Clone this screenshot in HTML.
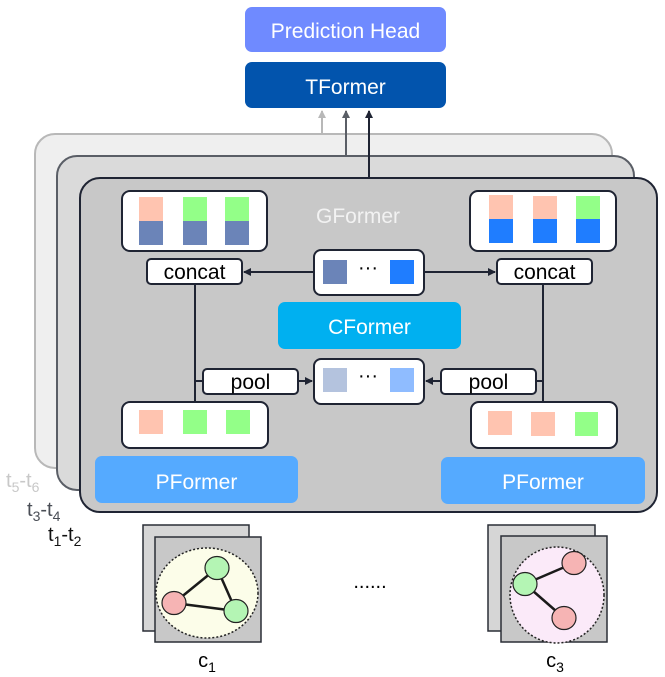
<!DOCTYPE html>
<html><head><meta charset="utf-8"><style>
html,body{margin:0;padding:0;background:#fff;}
svg{display:block;font-family:"Liberation Sans",sans-serif;}
</style></head><body>
<svg width="665" height="677" viewBox="0 0 665 677" xmlns="http://www.w3.org/2000/svg">
<defs>
<marker id="a" markerWidth="8" markerHeight="8" refX="7" refY="4" orient="auto" markerUnits="userSpaceOnUse"><path d="M0,0 L8,4 L0,8 z" fill="#1f2433"/></marker>
<marker id="ag" markerWidth="8" markerHeight="8" refX="7" refY="4" orient="auto" markerUnits="userSpaceOnUse"><path d="M0,0 L8,4 L0,8 z" fill="#b8b8b8"/></marker>
<marker id="am" markerWidth="8" markerHeight="8" refX="7" refY="4" orient="auto" markerUnits="userSpaceOnUse"><path d="M0,0 L8,4 L0,8 z" fill="#5a5e66"/></marker>
</defs>
<rect x="245" y="7" width="201" height="45" rx="7" fill="#6f8aff"/>
<text x="345.5" y="38" font-size="21" fill="#fff" text-anchor="middle">Prediction Head</text>
<rect x="245" y="62" width="201" height="46" rx="7" fill="#0254ad"/>
<text x="345.5" y="94" font-size="21" fill="#fff" text-anchor="middle">TFormer</text>
<rect x="35" y="134" width="577" height="334" rx="20" fill="#efefef" stroke="#b8b8b8" stroke-width="2"/>
<rect x="57" y="156" width="577" height="334" rx="20" fill="#dadada" stroke="#5a5e66" stroke-width="2"/>
<rect x="80" y="178" width="577" height="334" rx="20" fill="#c8c8c8" stroke="#1f2433" stroke-width="2"/>
<line x1="322" y1="134" x2="322" y2="111" stroke="#b8b8b8" stroke-width="2" marker-end="url(#ag)"/>
<line x1="346" y1="156" x2="346" y2="111" stroke="#5a5e66" stroke-width="2" marker-end="url(#am)"/>
<line x1="369" y1="178" x2="369" y2="111" stroke="#1f2433" stroke-width="2" marker-end="url(#a)"/>
<text x="358" y="223" font-size="21" fill="#f2f2f2" text-anchor="middle">GFormer</text>
<rect x="122" y="191" width="145" height="60" rx="8" fill="#fff" stroke="#1f2433" stroke-width="2"/>
<rect x="139" y="197" width="24" height="24" fill="#ffc4b0"/><rect x="139" y="221" width="24" height="24" fill="#6b84b8"/>
<rect x="183" y="197" width="24" height="24" fill="#93ff88"/><rect x="183" y="221" width="24" height="24" fill="#6b84b8"/>
<rect x="225" y="197" width="24" height="24" fill="#93ff88"/><rect x="225" y="221" width="24" height="24" fill="#6b84b8"/>
<rect x="470" y="191" width="146" height="60" rx="8" fill="#fff" stroke="#1f2433" stroke-width="2"/>
<rect x="489" y="195" width="24" height="24" fill="#ffc4b0"/><rect x="489" y="219" width="24" height="24" fill="#1f7dff"/>
<rect x="533" y="196" width="24" height="23" fill="#ffc4b0"/><rect x="533" y="219" width="24" height="24" fill="#1f7dff"/>
<rect x="576" y="196" width="24" height="23" fill="#93ff88"/><rect x="576" y="219" width="24" height="24" fill="#1f7dff"/>
<line x1="195" y1="284" x2="195" y2="402" stroke="#1f2433" stroke-width="2"/>
<line x1="543" y1="284" x2="543" y2="402" stroke="#1f2433" stroke-width="2"/>
<rect x="147" y="259" width="95" height="25" rx="4" fill="#fff" stroke="#1f2433" stroke-width="2"/>
<text x="194.5" y="279" font-size="21" text-anchor="middle">concat</text>
<rect x="497" y="259" width="95" height="25" rx="4" fill="#fff" stroke="#1f2433" stroke-width="2"/>
<text x="544.5" y="279" font-size="21" text-anchor="middle">concat</text>
<line x1="314" y1="272" x2="244" y2="272" stroke="#1f2433" stroke-width="2" marker-end="url(#a)"/>
<line x1="424" y1="272" x2="495" y2="272" stroke="#1f2433" stroke-width="2" marker-end="url(#a)"/>
<rect x="314" y="250" width="110" height="45" rx="7" fill="#fff" stroke="#1f2433" stroke-width="2"/>
<rect x="323" y="260" width="24" height="24" fill="#6b84b8"/><rect x="390" y="260" width="24" height="24" fill="#1f7dff"/>
<text x="368" y="274" font-size="20" text-anchor="middle">···</text>
<rect x="278" y="302" width="183" height="47" rx="7" fill="#00b0f0"/>
<text x="369.5" y="334" font-size="21" fill="#fff" text-anchor="middle">CFormer</text>
<line x1="195" y1="381" x2="204" y2="381" stroke="#1f2433" stroke-width="2"/>
<line x1="536" y1="381" x2="543" y2="381" stroke="#1f2433" stroke-width="2"/>
<rect x="203" y="369" width="95" height="25" rx="4" fill="#fff" stroke="#1f2433" stroke-width="2"/>
<text x="250.5" y="389" font-size="21" text-anchor="middle">pool</text>
<rect x="441" y="369" width="95" height="25" rx="4" fill="#fff" stroke="#1f2433" stroke-width="2"/>
<text x="488.5" y="389" font-size="21" text-anchor="middle">pool</text>
<line x1="298" y1="381" x2="312" y2="381" stroke="#1f2433" stroke-width="2" marker-end="url(#a)"/>
<line x1="441" y1="381" x2="426" y2="381" stroke="#1f2433" stroke-width="2" marker-end="url(#a)"/>
<rect x="314" y="359" width="110" height="45" rx="7" fill="#fff" stroke="#1f2433" stroke-width="2"/>
<rect x="323" y="368" width="24" height="24" fill="#b4c3de"/><rect x="390" y="368" width="24" height="24" fill="#8fbcff"/>
<text x="368" y="382" font-size="20" text-anchor="middle">···</text>
<rect x="122" y="402" width="146" height="46" rx="8" fill="#fff" stroke="#1f2433" stroke-width="2"/>
<rect x="139" y="410" width="24" height="24" fill="#ffc4b0"/><rect x="183" y="410" width="24" height="24" fill="#93ff88"/><rect x="226" y="410" width="24" height="24" fill="#93ff88"/>
<rect x="471" y="402" width="146" height="46" rx="8" fill="#fff" stroke="#1f2433" stroke-width="2"/>
<rect x="488" y="411" width="24" height="24" fill="#ffc4b0"/><rect x="531" y="412" width="24" height="24" fill="#ffc4b0"/><rect x="575" y="412" width="23" height="24" fill="#93ff88"/>
<rect x="95" y="456" width="203" height="47" rx="7" fill="#55aaff"/>
<text x="196.5" y="489" font-size="21" fill="#fff" text-anchor="middle">PFormer</text>
<rect x="441" y="457" width="204" height="47" rx="7" fill="#55aaff"/>
<text x="543" y="489" font-size="21" fill="#fff" text-anchor="middle">PFormer</text>
<text x="6" y="487" font-size="20" fill="#c8c8c8">t<tspan font-size="14" dy="5">5</tspan><tspan dy="-5">-t</tspan><tspan font-size="14" dy="5">6</tspan></text>
<text x="27" y="516" font-size="20" fill="#4a4e56">t<tspan font-size="14" dy="5">3</tspan><tspan dy="-5">-t</tspan><tspan font-size="14" dy="5">4</tspan></text>
<text x="48" y="541" font-size="20" fill="#111">t<tspan font-size="14" dy="5">1</tspan><tspan dy="-5">-t</tspan><tspan font-size="14" dy="5">2</tspan></text>
<rect x="143" y="525" width="106" height="106" fill="#d6d6d6" stroke="#2a2e36" stroke-width="1.5"/>
<rect x="155" y="537" width="106" height="105" fill="#c8c8c8" stroke="#2a2e36" stroke-width="1.5"/>
<ellipse cx="207" cy="593" rx="51" ry="45" fill="#fcfde9" stroke="#222" stroke-width="1.5" stroke-dasharray="2,2"/>
<line x1="217" y1="568" x2="174" y2="603" stroke="#1a1a1a" stroke-width="2.5"/>
<line x1="217" y1="568" x2="236" y2="611" stroke="#1a1a1a" stroke-width="2.5"/>
<line x1="174" y1="603" x2="236" y2="611" stroke="#1a1a1a" stroke-width="2.5"/>
<ellipse cx="217" cy="568" rx="12" ry="11.5" fill="#b4f5b4" stroke="#222" stroke-width="1.2"/>
<ellipse cx="174" cy="603" rx="12" ry="11.5" fill="#f6b4b4" stroke="#222" stroke-width="1.2"/>
<ellipse cx="236" cy="611" rx="12" ry="11.5" fill="#b4f5b4" stroke="#222" stroke-width="1.2"/>
<text x="207" y="667" font-size="20" text-anchor="middle">c<tspan font-size="14" dy="5">1</tspan></text>
<text x="370" y="588" font-size="20" text-anchor="middle">......</text>
<rect x="488" y="525" width="107" height="106" fill="#d6d6d6" stroke="#2a2e36" stroke-width="1.5"/>
<rect x="501" y="536" width="106" height="106" fill="#c8c8c8" stroke="#2a2e36" stroke-width="1.5"/>
<ellipse cx="557" cy="595" rx="47" ry="48" fill="#fbeaf9" stroke="#222" stroke-width="1.5" stroke-dasharray="2,2"/>
<line x1="525" y1="584" x2="574" y2="563" stroke="#1a1a1a" stroke-width="2.5"/>
<line x1="525" y1="584" x2="564" y2="618" stroke="#1a1a1a" stroke-width="2.5"/>
<ellipse cx="574" cy="563" rx="12" ry="11.5" fill="#f6b4b4" stroke="#222" stroke-width="1.2"/>
<ellipse cx="525" cy="584" rx="12" ry="11.5" fill="#b4f5b4" stroke="#222" stroke-width="1.2"/>
<ellipse cx="564" cy="618" rx="12" ry="11.5" fill="#f6b4b4" stroke="#222" stroke-width="1.2"/>
<text x="555" y="667" font-size="20" text-anchor="middle">c<tspan font-size="14" dy="5">3</tspan></text>
</svg>
</body></html>
